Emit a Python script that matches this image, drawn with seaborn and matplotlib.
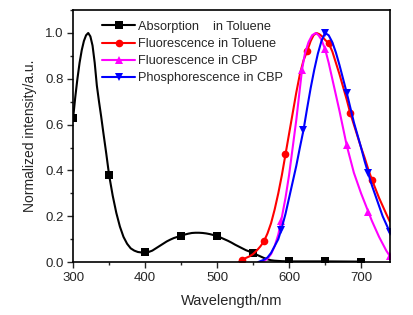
import matplotlib
matplotlib.use("Agg")
import matplotlib.pyplot as plt
import seaborn as sns
import pandas as pd
from matplotlib.ticker import MultipleLocator, FormatStrFormatter

# Absorción en tolueno
abs_wl = [300, 303, 306, 309, 312, 315, 318, 321, 324, 327, 330, 333, 336, 339, 342, 346,
          350, 355, 360, 365, 370, 375, 380, 385, 390, 395, 400, 405, 410, 415, 420, 425,
          430, 435, 440, 445, 450, 455, 460, 465, 470, 475, 480, 485, 490, 495, 500, 505,
          510, 515, 520, 525, 530, 535, 540, 545, 550, 555, 560, 565, 570, 575, 580, 590,
          600, 650, 700]
abs_val = [0.627, 0.72, 0.80, 0.87, 0.925, 0.965, 0.99, 1.0, 0.985, 0.945, 0.87, 0.77,
           0.70, 0.635, 0.565, 0.475, 0.38, 0.29, 0.215, 0.155, 0.11, 0.08, 0.06, 0.05,
           0.044, 0.042, 0.042, 0.044, 0.05, 0.06, 0.07, 0.08, 0.09, 0.098, 0.105, 0.11,
           0.115, 0.12, 0.124, 0.127, 0.128, 0.128, 0.127, 0.125, 0.122, 0.118, 0.113,
           0.107, 0.10, 0.093, 0.085, 0.076, 0.068, 0.06, 0.052, 0.046, 0.04, 0.032, 0.025,
           0.018, 0.012, 0.008, 0.006, 0.004, 0.003, 0.003, 0.002]
abs_marks = [300, 350, 400, 450, 500, 550, 600, 650, 700]

# Fluorescencia en tolueno
flt_wl = [530, 535, 540, 545, 550, 555, 560, 565, 570, 575, 580, 585, 590, 595, 600, 605,
          610, 615, 620, 625, 630, 634, 638, 642, 646, 650, 655, 660, 665, 670, 675, 680,
          685, 690, 695, 700, 705, 710, 715, 720, 725, 730, 735, 740]
flt_val = [0.0, 0.01, 0.018, 0.025, 0.035, 0.05, 0.068, 0.09, 0.125, 0.17, 0.23, 0.30,
           0.38, 0.47, 0.56, 0.65, 0.74, 0.82, 0.88, 0.92, 0.965, 0.99, 1.0, 0.995, 0.985,
           0.97, 0.955, 0.92, 0.87, 0.82, 0.765, 0.71, 0.65, 0.60, 0.55, 0.50, 0.455, 0.405,
           0.36, 0.32, 0.28, 0.245, 0.21, 0.176]
flt_marks = [535, 565, 595, 625, 655, 685, 715]

# Fluorescencia en CBP
fcbp_wl = [563, 570, 575, 580, 585, 589, 595, 600, 605, 610, 614, 618, 622, 627, 632, 637,
           641, 645, 650, 655, 660, 665, 670, 675, 680, 685, 690, 695, 700, 705, 710, 715,
           720, 725, 730, 735, 740]
fcbp_val = [0.0, 0.015, 0.035, 0.07, 0.12, 0.18, 0.28, 0.38, 0.50, 0.62, 0.73, 0.84, 0.91,
            0.96, 0.99, 1.0, 0.99, 0.97, 0.93, 0.87, 0.80, 0.73, 0.66, 0.585, 0.51, 0.45,
            0.39, 0.345, 0.30, 0.26, 0.22, 0.18, 0.145, 0.11, 0.08, 0.05, 0.026]
fcbp_marks = [589, 618, 650, 680, 710, 740]

# Fosforescencia en CBP
pcbp_wl = [557, 565, 570, 575, 580, 585, 589, 595, 600, 605, 610, 615, 620, 625, 630, 635,
           640, 645, 650, 655, 660, 665, 670, 675, 680, 685, 690, 695, 700, 705, 710, 715,
           720, 725, 730, 735, 740]
pcbp_val = [0.0, 0.01, 0.02, 0.04, 0.07, 0.10, 0.14, 0.21, 0.28, 0.35, 0.42, 0.50, 0.576,
            0.67, 0.76, 0.84, 0.91, 0.965, 1.0, 0.99, 0.96, 0.915, 0.86, 0.80, 0.74, 0.675,
            0.61, 0.555, 0.50, 0.44, 0.387, 0.335, 0.29, 0.245, 0.20, 0.165, 0.13]
pcbp_marks = [589, 620, 650, 680, 710, 740]

series = [
    ("Absorption    in Toluene", abs_wl, abs_val, abs_marks, "black", "s"),
    ("Fluorescence in Toluene", flt_wl, flt_val, flt_marks, "#ff0000", "o"),
    ("Fluorescence in CBP", fcbp_wl, fcbp_val, fcbp_marks, "#ff00ff", "^"),
    ("Phosphorescence in CBP", pcbp_wl, pcbp_val, pcbp_marks, "#0000ff", "v"),
]

sns.set_style("white")
plt.rcParams["font.family"] = ["Liberation Sans", "DejaVu Sans"]

fig = plt.figure(figsize=(4.13, 3.15), dpi=100)
ax = fig.add_axes([0.177, 0.168, 0.767, 0.8])

for label, wl, val, marks, color, mk in series:
    df = pd.DataFrame({"wl": wl, "val": val})
    idx = [wl.index(m) for m in marks]
    sns.lineplot(data=df, x="wl", y="val", ax=ax, color=color, linewidth=1.5,
                 marker=mk, markersize=5.5, markeredgewidth=0, markevery=idx,
                 label=label, sort=False)

ax.set_xlim(300, 740)
ax.set_ylim(0, 1.1)
ax.xaxis.set_major_locator(MultipleLocator(100))
ax.xaxis.set_minor_locator(MultipleLocator(50))
ax.yaxis.set_major_locator(MultipleLocator(0.2))
ax.yaxis.set_minor_locator(MultipleLocator(0.1))
ax.yaxis.set_major_formatter(FormatStrFormatter("%.1f"))
ax.tick_params(which="major", direction="out", length=4, width=1, labelsize=9.5,
               bottom=True, left=True, top=False, right=False, pad=3)
ax.tick_params(which="minor", direction="out", length=2.5, width=1,
               bottom=True, left=True, top=False, right=False)
for s in ax.spines.values():
    s.set_color("black")
    s.set_linewidth(1.2)

ax.set_xlabel("Wavelength/nm", fontsize=10.5, labelpad=7)
ax.set_ylabel("Normalized intensity/a.u.", fontsize=10, labelpad=6)

ax.legend(loc="upper left", bbox_to_anchor=(0.065, 0.99), frameon=False, fontsize=9.2,
          handlelength=2.6, handletextpad=0.2, labelspacing=0.4, borderaxespad=0.25)

fig.savefig("out.png", dpi=100)
